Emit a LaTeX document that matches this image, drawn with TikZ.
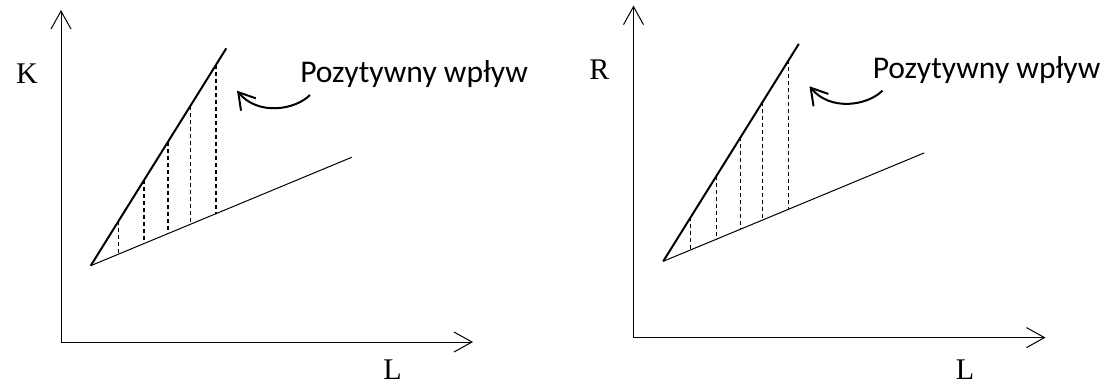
\documentclass[tikz,border=0pt]{standalone}
\usepackage{fontspec}
\setmainfont{Liberation Serif}
\newfontfamily\notefont{Carlito}
\usetikzlibrary{arrows.meta}

\begin{document}
\begin{tikzpicture}[x=0.75pt, y=-0.75pt,
  axis/.style={line width=0.75pt, -{Straight Barb[length=13.5pt, width=15pt]}},
  steepline/.style={line width=1.5pt},
  flatline/.style={line width=0.75pt},
  gapline/.style={line width=0.8pt, dash pattern=on 3pt off 2.25pt},
  bendarrow/.style={line width=1.5pt, -{Straight Barb[length=12pt, width=14.5pt]}},
  varlabel/.style={inner sep=0pt, font=\fontsize{22.5}{27}\selectfont},
  note/.style={inner sep=0pt, anchor=base west, font=\notefont\fontsize{23.7}{28}\selectfont}]
  \useasboundingbox (0,0) rectangle (1108,387);
  % two panels: K against L, then R against L (same drawing, moved right)
  \foreach \p/\dx/\dy/\v in {k/0/0/K, r/572.5/-4.4/R} {
    \begin{scope}[shift={(\dx,\dy)}]
      \coordinate (o\p) at (61,342);
      \coordinate (ytop\p) at (61,10);
      \coordinate (xend\p) at (473,342);
      \draw[axis] (o\p) -- (ytop\p);
      \draw[axis] (o\p) -- (xend\p);
      \node[varlabel] (ylab\p) at (27,74) {\v};
      \node[varlabel] (xlab\p) at (392.5,{370-(\dy)}) {L};
      % the two rays from a common start
      \coordinate (vtx\p) at (90.7,265.7);
      \coordinate (steep\p) at (226.3,48.3);
      \coordinate (flat\p) at (351.7,157.3);
      \draw[steepline] (vtx\p) -- (steep\p);
      \draw[flatline] (vtx\p) -- (flat\p);
      % vertical gaps between the rays
      \foreach \x in {118.3,144,168,190.3,216}
        \draw[gapline] (\x,{265.7-1.603*(\x-90.7)}) -- (\x,{265.7-0.4153*(\x-90.7)});
      \node[note] (note\p) at (300,82.7) {Pozytywny wpływ};
      \coordinate (tail\p) at (310,95);
      \coordinate (tip\p) at (237,90.7);
      \draw[bendarrow] (tail\p) .. controls (295,110) and (258,116) .. (tip\p);
    \end{scope}
  }
\end{tikzpicture}
\end{document}
